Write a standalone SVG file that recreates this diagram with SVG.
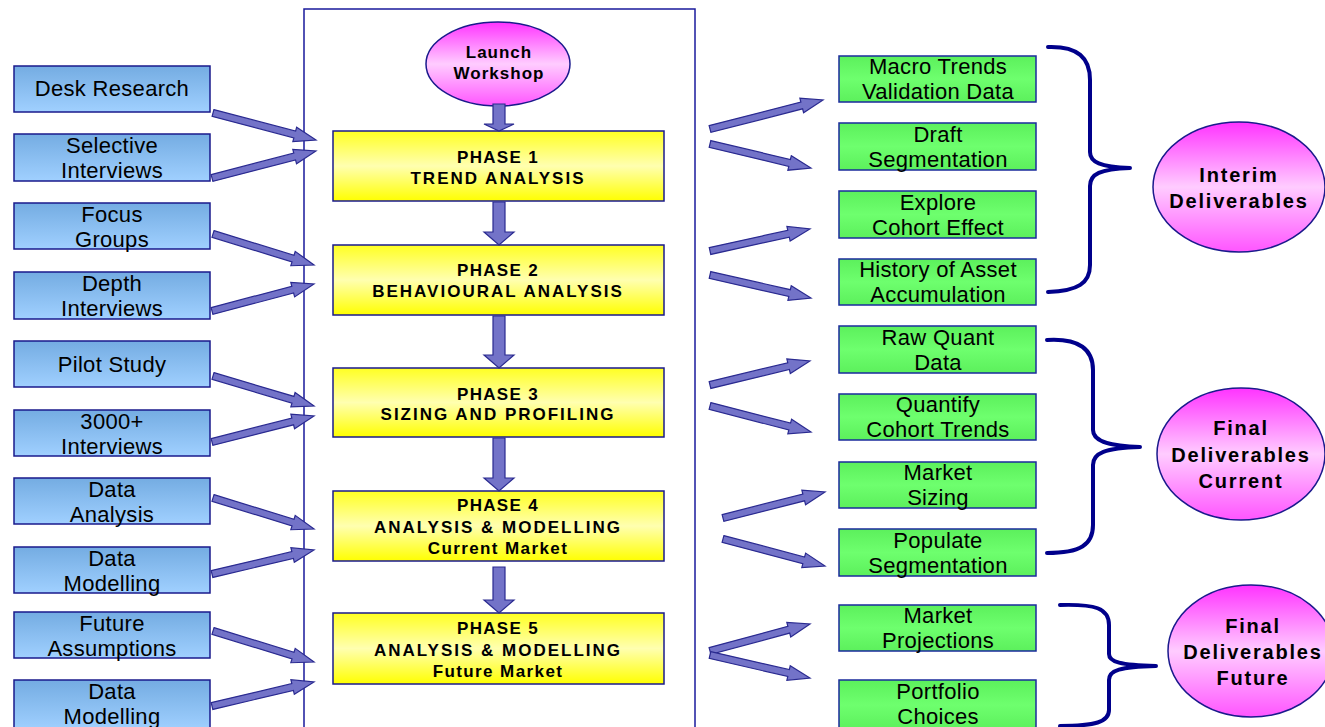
<svg xmlns="http://www.w3.org/2000/svg" width="1325" height="727" viewBox="0 0 1325 727">
<defs>
<linearGradient id="gBlue" x1="0" y1="0" x2="0" y2="1"><stop offset="0" stop-color="#74ace2"/><stop offset="1" stop-color="#a0d0ff"/></linearGradient>
<linearGradient id="gGreen" x1="0" y1="0" x2="0" y2="1"><stop offset="0" stop-color="#5cf05c"/><stop offset="0.5" stop-color="#6eff6e"/><stop offset="1" stop-color="#5cf05c"/></linearGradient>
<linearGradient id="gYellow" x1="0" y1="0" x2="0" y2="1"><stop offset="0" stop-color="#ffff22"/><stop offset="0.5" stop-color="#ffffb0"/><stop offset="1" stop-color="#ffff00"/></linearGradient>
<linearGradient id="gPink" x1="0" y1="0" x2="0" y2="1"><stop offset="0" stop-color="#ff33ff"/><stop offset="0.5" stop-color="#ffccff"/><stop offset="1" stop-color="#ff55ff"/></linearGradient>
</defs>
<style>
.blue{fill:url(#gBlue);stroke:#1a1a8c;stroke-width:1.5}
.green{fill:url(#gGreen);stroke:#1a2a9c;stroke-width:1.5}
.yellow{fill:url(#gYellow);stroke:#1a1a8c;stroke-width:1.5}
.pink{fill:url(#gPink);stroke:#1a1a8c;stroke-width:1.5}
.t{font-family:"Liberation Sans",Arial,sans-serif;font-size:22px;letter-spacing:0.3px;fill:#000;text-anchor:middle}
.b{font-family:"Liberation Sans",Arial,sans-serif;font-size:17px;font-weight:bold;letter-spacing:2px;fill:#000;text-anchor:middle}
.e{font-family:"Liberation Sans",Arial,sans-serif;font-size:20px;font-weight:bold;letter-spacing:1.8px;fill:#000;text-anchor:middle}
.arr{fill:#7373c8;stroke:#2a2a90;stroke-width:1.2;stroke-linejoin:miter}
.brace{fill:none;stroke:#00008b;stroke-width:4;stroke-linecap:round;stroke-linejoin:round}
</style>
<rect x="0" y="0" width="1325" height="727" fill="#fff"/>
<rect id="container" x="304" y="9" width="391" height="740" fill="none" stroke="#1a1a9c" stroke-width="1.5"/>

<g id="desk-research"><rect class="blue" x="14" y="66" width="196" height="46"/><text class="t" x="112" y="96">Desk Research</text></g>
<g id="selective-interviews"><rect class="blue" x="14" y="134" width="196" height="47"/><text class="t" x="112" y="153">Selective</text><text class="t" x="112" y="178">Interviews</text></g>
<g id="focus-groups"><rect class="blue" x="14" y="203" width="196" height="46"/><text class="t" x="112" y="222">Focus</text><text class="t" x="112" y="247">Groups</text></g>
<g id="depth-interviews"><rect class="blue" x="14" y="272" width="196" height="47"/><text class="t" x="112" y="291">Depth</text><text class="t" x="112" y="316">Interviews</text></g>
<g id="pilot-study"><rect class="blue" x="14" y="341" width="196" height="46"/><text class="t" x="112" y="372">Pilot Study</text></g>
<g id="interviews-3000"><rect class="blue" x="14" y="410" width="196" height="46"/><text class="t" x="112" y="429">3000+</text><text class="t" x="112" y="454">Interviews</text></g>
<g id="data-analysis"><rect class="blue" x="14" y="478" width="196" height="46"/><text class="t" x="112" y="497">Data</text><text class="t" x="112" y="522">Analysis</text></g>
<g id="data-modelling-1"><rect class="blue" x="14" y="547" width="196" height="46"/><text class="t" x="112" y="566">Data</text><text class="t" x="112" y="591">Modelling</text></g>
<g id="future-assumptions"><rect class="blue" x="14" y="612" width="196" height="46"/><text class="t" x="112" y="631">Future</text><text class="t" x="112" y="656">Assumptions</text></g>
<g id="data-modelling-2"><rect class="blue" x="14" y="680" width="196" height="50"/><text class="t" x="112" y="699">Data</text><text class="t" x="112" y="724">Modelling</text></g>

<g id="launch-workshop"><ellipse class="pink" cx="498" cy="64" rx="72" ry="42"/><text class="b" x="499" y="58" style="letter-spacing:1px">Launch</text><text class="b" x="499" y="79" style="letter-spacing:1px">Workshop</text></g>
<g id="phase-1"><rect class="yellow" x="333" y="131" width="331" height="70"/><text class="b" x="498" y="163" style="letter-spacing:1.3px">PHASE 1</text><text class="b" x="498" y="184">TREND ANALYSIS</text></g>
<g id="phase-2"><rect class="yellow" x="333" y="245" width="331" height="70"/><text class="b" x="498" y="276" style="letter-spacing:1.3px">PHASE 2</text><text class="b" x="498" y="297">BEHAVIOURAL ANALYSIS</text></g>
<g id="phase-3"><rect class="yellow" x="333" y="368" width="331" height="69"/><text class="b" x="498" y="400" style="letter-spacing:1.3px">PHASE 3</text><text class="b" x="498" y="420">SIZING AND PROFILING</text></g>
<g id="phase-4"><rect class="yellow" x="333" y="491" width="331" height="70"/><text class="b" x="498" y="511" style="letter-spacing:1.3px">PHASE 4</text><text class="b" x="498" y="533">ANALYSIS &amp; MODELLING</text><text class="b" x="498" y="554" style="letter-spacing:1.4px">Current Market</text></g>
<g id="phase-5"><rect class="yellow" x="333" y="613" width="331" height="71"/><text class="b" x="498" y="634" style="letter-spacing:1.3px">PHASE 5</text><text class="b" x="498" y="656">ANALYSIS &amp; MODELLING</text><text class="b" x="498" y="677" style="letter-spacing:1.4px">Future Market</text></g>

<g id="macro-trends"><rect class="green" x="839" y="56" width="197" height="46"/><text class="t" x="938" y="74">Macro Trends</text><text class="t" x="938" y="99">Validation Data</text></g>
<g id="draft-segmentation"><rect class="green" x="839" y="123" width="197" height="47"/><text class="t" x="938" y="142">Draft</text><text class="t" x="938" y="167">Segmentation</text></g>
<g id="explore-cohort"><rect class="green" x="839" y="191" width="197" height="47"/><text class="t" x="938" y="210">Explore</text><text class="t" x="938" y="235">Cohort Effect</text></g>
<g id="asset-accumulation"><rect class="green" x="839" y="259" width="197" height="46"/><text class="t" x="938" y="277">History of Asset</text><text class="t" x="938" y="302">Accumulation</text></g>
<g id="raw-quant"><rect class="green" x="839" y="326" width="197" height="47"/><text class="t" x="938" y="345">Raw Quant</text><text class="t" x="938" y="370">Data</text></g>
<g id="quantify-cohort"><rect class="green" x="839" y="394" width="197" height="46"/><text class="t" x="938" y="412">Quantify</text><text class="t" x="938" y="437">Cohort Trends</text></g>
<g id="market-sizing"><rect class="green" x="839" y="462" width="197" height="46"/><text class="t" x="938" y="480">Market</text><text class="t" x="938" y="505">Sizing</text></g>
<g id="populate-segmentation"><rect class="green" x="839" y="529" width="197" height="47"/><text class="t" x="938" y="548">Populate</text><text class="t" x="938" y="573">Segmentation</text></g>
<g id="market-projections"><rect class="green" x="839" y="605" width="197" height="46"/><text class="t" x="938" y="623">Market</text><text class="t" x="938" y="648">Projections</text></g>
<g id="portfolio-choices"><rect class="green" x="839" y="680" width="197" height="50"/><text class="t" x="938" y="699">Portfolio</text><text class="t" x="938" y="724">Choices</text></g>

<g id="interim-deliverables"><ellipse class="pink" cx="1239" cy="187" rx="86" ry="65"/><text class="e" x="1239" y="182">Interim</text><text class="e" x="1239" y="208">Deliverables</text></g>
<g id="final-current"><ellipse class="pink" cx="1241" cy="454" rx="84" ry="66"/><text class="e" x="1241" y="435">Final</text><text class="e" x="1241" y="462">Deliverables</text><text class="e" x="1241" y="488">Current</text></g>
<g id="final-future"><ellipse class="pink" cx="1251" cy="651" rx="83" ry="66"/><text class="e" x="1253" y="633">Final</text><text class="e" x="1253" y="659">Deliverables</text><text class="e" x="1253" y="685">Future</text></g>

<g id="connectors">
<path class="arr" d="M493,104 H505 V124 H514 L499,131 L484,124 H493 Z"/>
<path class="arr" d="M493,202 H505 V232 H514 L499,245 L484,232 H493 Z"/>
<path class="arr" d="M493,316 H505 V355 H514 L499,368 L484,355 H493 Z"/>
<path class="arr" d="M493,438 H505 V478 H514 L499,491 L484,478 H493 Z"/>
<path class="arr" d="M493,567 H505 V600 H514 L499,613 L484,600 H493 Z"/>

<path class="arr" transform="translate(213,113) rotate(14.69)" d="M0,-3.5 H84.5 V-7.5 L106.5,0 L84.5,7.5 V3.5 H0 Z"/>
<path class="arr" transform="translate(212,178) rotate(-14.55)" d="M0,-3.5 H85.4 V-7.5 L107.4,0 L85.4,7.5 V3.5 H0 Z"/>
<path class="arr" transform="translate(213,234) rotate(17.06)" d="M0,-3.5 H83.7 V-7.5 L105.7,0 L83.7,7.5 V3.5 H0 Z"/>
<path class="arr" transform="translate(212,311) rotate(-14.83)" d="M0,-3.5 H83.5 V-7.5 L105.5,0 L83.5,7.5 V3.5 H0 Z"/>
<path class="arr" transform="translate(213,376) rotate(16.54)" d="M0,-3.5 H83.4 V-7.5 L105.4,0 L83.4,7.5 V3.5 H0 Z"/>
<path class="arr" transform="translate(212,442) rotate(-14.30)" d="M0,-3.5 H83.3 V-7.5 L105.3,0 L83.3,7.5 V3.5 H0 Z"/>
<path class="arr" transform="translate(213,498) rotate(17.06)" d="M0,-3.5 H83.7 V-7.5 L105.7,0 L83.7,7.5 V3.5 H0 Z"/>
<path class="arr" transform="translate(212,574) rotate(-13.24)" d="M0,-3.5 H82.8 V-7.5 L104.8,0 L82.8,7.5 V3.5 H0 Z"/>
<path class="arr" transform="translate(213,631) rotate(17.06)" d="M0,-3.5 H83.7 V-7.5 L105.7,0 L83.7,7.5 V3.5 H0 Z"/>
<path class="arr" transform="translate(212,706) rotate(-13.24)" d="M0,-3.5 H82.8 V-7.5 L104.8,0 L82.8,7.5 V3.5 H0 Z"/>

<path class="arr" transform="translate(710,129) rotate(-14.39)" d="M0,-3.5 H94.7 V-7.5 L116.7,0 L94.7,7.5 V3.5 H0 Z"/>
<path class="arr" transform="translate(710,144) rotate(13.37)" d="M0,-3.5 H81.8 V-7.5 L103.8,0 L81.8,7.5 V3.5 H0 Z"/>
<path class="arr" transform="translate(710,251) rotate(-12.41)" d="M0,-3.5 H80.4 V-7.5 L102.4,0 L80.4,7.5 V3.5 H0 Z"/>
<path class="arr" transform="translate(710,275) rotate(12.83)" d="M0,-3.5 H81.6 V-7.5 L103.6,0 L81.6,7.5 V3.5 H0 Z"/>
<path class="arr" transform="translate(710,385) rotate(-13.50)" d="M0,-3.5 H80.8 V-7.5 L102.8,0 L80.8,7.5 V3.5 H0 Z"/>
<path class="arr" transform="translate(710,406) rotate(14.44)" d="M0,-3.5 H82.3 V-7.5 L104.3,0 L82.3,7.5 V3.5 H0 Z"/>
<path class="arr" transform="translate(723,518) rotate(-14.30)" d="M0,-3.5 H83.3 V-7.5 L105.3,0 L83.3,7.5 V3.5 H0 Z"/>
<path class="arr" transform="translate(723,539) rotate(14.83)" d="M0,-3.5 H83.5 V-7.5 L105.5,0 L83.5,7.5 V3.5 H0 Z"/>
<path class="arr" transform="translate(710,651) rotate(-15.11)" d="M0,-3.5 H81.6 V-7.5 L103.6,0 L81.6,7.5 V3.5 H0 Z"/>
<path class="arr" transform="translate(710,655) rotate(12.95)" d="M0,-3.5 H80.6 V-7.5 L102.6,0 L80.6,7.5 V3.5 H0 Z"/>

<path class="brace" d="M1048,47 C1078,46 1090,58 1090,80 L1090,152 C1090,162 1100,167 1130,168 C1100,169 1090,174 1090,186 L1090,265 C1090,283 1078,291 1048,292"/>
<path class="brace" d="M1047,340 C1080,338 1093,350 1093,370 L1093,430 C1093,440 1105,446 1140,447 C1105,448 1093,453 1093,465 L1093,525 C1093,545 1080,553 1047,553"/>
<path class="brace" d="M1060,605 C1095,604 1109,608 1109,625 L1109,654 C1109,662 1120,665 1156,666 C1120,667 1109,670 1109,680 L1109,710 C1109,722 1095,726 1060,726"/>
</g>
</svg>
